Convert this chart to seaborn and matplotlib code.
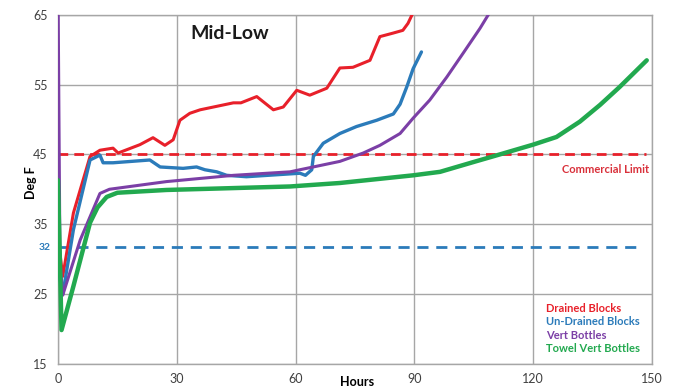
import matplotlib
matplotlib.use('Agg')
import matplotlib.pyplot as plt
import seaborn as sns

# 读图得到的数据 (Hours, Deg F)
red_x = [0, 1.2, 3.9, 8.1, 10.6, 13.9, 15.2, 20.7, 24.0, 27.0, 29.1, 30.8, 33.3, 35.9, 44.3, 46.2,
         50.2, 54.4, 56.9, 60.3, 63.6, 67.9, 71.2, 74.5, 78.8, 81.3, 84.6, 87.1, 88.4, 89.4, 90.3]
red_y = [33.2, 27.5, 36.6, 44.7, 45.6, 45.9, 45.2, 46.4, 47.4, 46.3, 47.1, 49.9, 50.9, 51.4, 52.4, 52.4,
         53.3, 51.4, 51.8, 54.2, 53.5, 54.5, 57.4, 57.5, 58.5, 61.9, 62.4, 62.8, 63.8, 65.0, 67.0]

blue_x = [0, 1.2, 3.9, 8.1, 10.6, 11.4, 13.9, 23.2, 25.8, 31.6, 35.0, 37.1, 40.1, 42.6, 47.6, 61.1,
          62.5, 64.1, 64.5, 67.0, 71.2, 75.4, 80.5, 84.7, 86.4, 88.1, 89.7, 91.8]
blue_y = [29.0, 24.9, 34.2, 44.2, 44.9, 43.8, 43.8, 44.2, 43.2, 43.0, 43.2, 42.8, 42.5, 42.0, 41.8, 42.3,
          42.0, 42.8, 44.7, 46.6, 48.0, 49.0, 49.9, 50.8, 52.2, 54.7, 57.3, 59.7]

purple_x = [0, 0.5, 1.2, 5.6, 10.6, 13.0, 27.4, 44.3, 58.6, 61.1, 71.2, 77.1, 81.3, 86.4, 89.7,
            93.9, 98.2, 102.3, 106.6, 109.5]
purple_y = [70.0, 30.0, 24.8, 32.7, 39.4, 40.0, 41.1, 42.0, 42.5, 42.8, 44.0, 45.2, 46.3, 48.0, 50.2,
            52.8, 56.1, 59.5, 63.1, 65.8]

green_x = [0, 0.9, 3.9, 8.1, 10.0, 12.3, 15.0, 27.4, 40.0, 58.6, 71.2, 81.3, 89.7, 96.5, 104.9,
           111.6, 120.0, 125.9, 131.8, 136.9, 141.9, 145.3, 148.7]
green_y = [41.3, 19.8, 26.1, 35.2, 37.4, 38.9, 39.5, 39.9, 40.1, 40.4, 40.9, 41.5, 42.0, 42.5, 43.9,
           45.0, 46.4, 47.5, 49.7, 52.1, 54.7, 56.6, 58.5]

limit_hi = 45
limit_lo = 31.7

x_ticks = [0, 30, 60, 90, 120, 150]
y_ticks = [15, 25, 35, 45, 55, 65]

series = [
    ('Drained Blocks', red_x, red_y, '#e8202a', 2.2),
    ('Un-Drained Blocks', blue_x, blue_y, '#2b7bba', 2.4),
    ('Vert Bottles', purple_x, purple_y, '#7b3fa6', 2.2),
    ('Towel Vert Bottles', green_x, green_y, '#22a94f', 3.2),
]

sns.set_theme(style='whitegrid')
plt.rcParams['font.family'] = ['Lato', 'DejaVu Sans']

fig = plt.figure(figsize=(6.78, 3.91), dpi=100)
ax = fig.add_axes([0.0855, 0.0703, 0.876, 0.8913])

# 参考线
ax.axhline(limit_hi, xmax=0.99, color='#e8202a', lw=2, dashes=(3.5, 2.2), zorder=2)
ax.axhline(limit_lo, xmax=0.985, color='#2b7bba', lw=2, dashes=(4, 2.8), zorder=2)

for name, xs, ys, c, lw in series:
    sns.lineplot(x=xs, y=ys, color=c, lw=lw, label=name, ax=ax, zorder=3)

ax.set_xlim(0, 150)
ax.set_ylim(15, 65)
ax.set_xticks(x_ticks)
ax.set_yticks(y_ticks)
ax.grid(True, color='#a6a6a6', lw=1)
ax.set_facecolor('white')
for s in ax.spines.values():
    s.set_color('#a6a6a6')
    s.set_linewidth(1)
ax.tick_params(axis='both', labelsize=9, colors='#404040', length=3.5, width=1, pad=3)
ax.tick_params(axis='y', pad=4)
for t in ax.get_xticklabels() + ax.get_yticklabels():
    t.set_color('#404040')

ax.set_xlabel('Hours', fontsize=9, fontweight='bold', color='black')
ax.xaxis.set_label_coords(0.503, -0.035)
ax.set_ylabel('Deg F', fontsize=9, fontweight='bold', color='black')
ax.yaxis.set_label_coords(-0.036, 0.52)

ax.text(43.3, 62.3, 'Mid-Low', fontsize=14, fontweight='bold', ha='center', va='center', color='#1a1a1a')
ax.text(0.995, 42.9, 'Commercial Limit', transform=ax.get_yaxis_transform(), fontsize=8,
        fontweight='bold', color='#d9303a', ha='right', va='center')
ax.text(-0.012, limit_lo, '32', transform=ax.get_yaxis_transform(), fontsize=7.5,
        fontweight='bold', color='#2b7bba', ha='right', va='center')

leg = ax.legend(loc='lower right', bbox_to_anchor=(0.99, 0.012), frameon=False, handlelength=0,
                handletextpad=0, labelspacing=0.2, borderpad=0, labelcolor='linecolor',
                prop={'size': 8, 'weight': 'bold'})
for h in leg.legend_handles:
    h.set_visible(False)

fig.savefig('out.png', dpi=100)
